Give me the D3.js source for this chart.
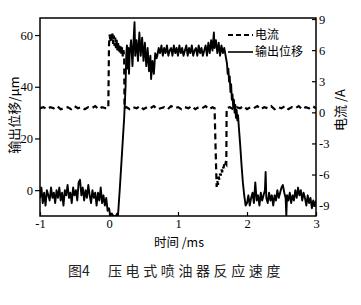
<!DOCTYPE html>
<html><head><meta charset="utf-8">
<script src="https://cdn.jsdelivr.net/npm/d3@7"></script>
<style>
html,body{margin:0;padding:0;background:#fff;}
svg{display:block;}
</style></head>
<body>
<script>
// ---- data ----
const xTicks = [-1, 0, 1, 2, 3];
const leftTicks = [0, 20, 40, 60];
const rightTicks = [-9, -6, -3, 0, 3, 6, 9];
const seriesNames = ["电流", "输出位移"];

// displacement (μm) : [time ms, value]
const displacement = [
[-1.00,-3],[-0.98,1],[-0.96,-5],[-0.94,-1],[-0.92,-6],[-0.90,0],[-0.88,-2],[-0.86,-4],[-0.84,1],[-0.82,-3],
[-0.80,-1],[-0.78,-5],[-0.76,0],[-0.74,-3],[-0.72,1],[-0.70,-4],[-0.68,-1],[-0.66,-6],[-0.64,0],[-0.62,-2],
[-0.60,2],[-0.58,-3],[-0.56,-1],[-0.54,-5],[-0.52,1],[-0.50,-2],[-0.48,0],[-0.46,-4],[-0.44,3],[-0.42,4],
[-0.40,-2],[-0.38,1],[-0.36,-4],[-0.34,0],[-0.32,-3],[-0.30,2],[-0.28,-2],[-0.26,-5],[-0.24,0],[-0.22,-3],
[-0.20,-1],[-0.18,-6],[-0.16,-1],[-0.14,-4],[-0.12,1],[-0.10,-5],[-0.08,-2],[-0.06,-6],[-0.04,-3],[-0.02,-8],
[0.00,-7],[0.02,-10],[0.04,-9],[0.06,-10],[0.08,-10],[0.10,-10],[0.12,-9],[0.13,-10],[0.16,2],[0.19,15],
[0.22,28],[0.24,40],[0.25,52],[0.26,56],[0.27,47],[0.28,55],[0.29,45],[0.30,53],[0.32,58],[0.34,48],
[0.36,60],[0.37,65],[0.38,52],[0.40,58],[0.42,50],[0.44,61],[0.46,52],[0.48,59],[0.50,50],[0.52,57],
[0.54,48],[0.56,55],[0.58,46],[0.60,52],[0.61,43],[0.63,50],[0.65,45],[0.67,53],[0.69,51],[0.70,52],
[0.72,55],[0.74,53],[0.76,56],[0.78,52],[0.80,55],[0.82,53],[0.84,56],[0.86,52],[0.88,54],[0.90,55],
[0.92,52],[0.94,56],[0.96,53],[0.98,55],[1.00,52],[1.02,56],[1.04,53],[1.06,55],[1.08,52],[1.10,54],
[1.12,56],[1.14,52],[1.16,55],[1.18,53],[1.20,56],[1.22,52],[1.24,54],[1.26,55],[1.28,52],[1.30,56],
[1.32,53],[1.34,55],[1.36,52],[1.38,54],[1.40,56],[1.42,52],[1.44,57],[1.46,53],[1.48,58],[1.50,54],
[1.52,61],[1.53,55],[1.55,58],[1.57,53],[1.59,57],[1.61,52],[1.63,56],[1.65,53],[1.67,55],[1.69,52],
[1.71,49],[1.72,45],[1.73,47],[1.74,42],[1.75,44],[1.76,38],[1.77,41],[1.78,35],[1.79,37],[1.80,32],
[1.81,35],[1.82,30],[1.83,33],[1.84,28],[1.85,31],[1.86,27],[1.87,29],[1.88,25],[1.90,18],[1.92,10],
[1.94,3],[1.96,-2],[1.98,-6],[2.00,-5],[2.02,-2],[2.04,-6],[2.06,-3],[2.08,-1],[2.10,-5],[2.12,3],
[2.14,-4],[2.16,-2],[2.18,-6],[2.20,-1],[2.22,-4],[2.24,-2],[2.26,0],[2.27,7],[2.28,-3],[2.30,-5],
[2.32,-1],[2.34,-4],[2.36,-2],[2.38,-6],[2.40,-2],[2.42,-4],[2.44,0],[2.46,-3],[2.48,-1],[2.50,1],
[2.52,2],[2.54,-1],[2.56,-3],[2.57,-10],[2.58,-2],[2.60,-4],[2.62,-1],[2.64,-5],[2.66,-2],[2.68,-4],
[2.70,0],[2.72,-3],[2.74,1],[2.76,-2],[2.78,0],[2.80,-4],[2.82,-1],[2.84,-3],[2.86,-6],[2.88,-2],
[2.90,-5],[2.92,-3],[2.94,-7],[2.96,-4],[2.98,-6],[3.00,-4]
];

// current (A) : [time ms, value]
const current = [
[-1.00,0.4],[-0.95,0.5],[-0.90,0.3],[-0.85,0.5],[-0.80,0.4],[-0.75,0.6],[-0.70,0.3],[-0.65,0.4],[-0.60,0.5],[-0.55,0.3],
[-0.50,0.6],[-0.45,0.4],[-0.40,0.5],[-0.35,0.3],[-0.30,0.5],[-0.25,0.4],[-0.20,0.6],[-0.15,0.3],[-0.10,0.5],[-0.05,0.4],
[-0.01,0.4],[0.00,6.5],[0.01,7.5],[0.02,6.8],[0.03,7.7],[0.04,6.9],[0.05,7.6],[0.06,6.6],[0.07,7.4],[0.08,6.4],
[0.09,7.2],[0.10,6.2],[0.11,7.0],[0.12,6.0],[0.13,6.8],[0.14,5.8],[0.15,6.6],[0.16,5.6],[0.17,6.5],[0.18,5.5],
[0.19,6.3],[0.20,5.4],[0.21,6.0],[0.22,5.3],[0.225,0.4],[0.25,0.5],[0.30,0.3],[0.35,0.5],[0.40,0.4],[0.45,0.6],
[0.50,0.3],[0.55,0.5],[0.60,0.4],[0.65,0.6],[0.70,0.3],[0.75,0.4],[0.80,0.5],[0.85,0.3],[0.90,0.6],[0.95,0.4],
[1.00,0.5],[1.05,0.3],[1.10,0.5],[1.15,0.4],[1.20,0.6],[1.25,0.3],[1.30,0.5],[1.35,0.4],[1.40,0.6],[1.45,0.3],
[1.50,0.5],[1.53,0.4],[1.545,-3.5],[1.56,-7.2],[1.57,-6.6],[1.58,-7.0],[1.59,-6.2],[1.60,-6.5],[1.61,-5.9],[1.62,-6.1],
[1.63,-5.5],[1.64,-5.8],[1.65,-5.2],[1.66,-5.4],[1.67,-5.0],[1.68,-5.2],[1.69,-4.9],[1.70,-5.0],[1.705,0.4],[1.75,0.5],
[1.80,0.3],[1.85,0.5],[1.90,0.4],[1.95,0.6],[2.00,0.3],[2.05,0.5],[2.10,0.4],[2.15,0.6],[2.20,0.3],[2.25,0.5],
[2.30,0.4],[2.35,0.6],[2.40,0.3],[2.45,0.5],[2.50,0.4],[2.55,0.6],[2.60,0.3],[2.65,0.5],[2.70,0.4],[2.75,0.6],
[2.80,0.3],[2.85,0.5],[2.90,0.4],[2.95,0.6],[3.00,0.4]
];

// ---- layout ----
const W = 361, H = 305;
const L = 40, R = 316, T = 18, B = 216;
const serif = "'Liberation Serif','DejaVu Serif',serif";
const cjk = "'Noto Sans CJK SC','Noto Sans CJK JP',sans-serif";

const svg = d3.select("body").append("svg").attr("width", W).attr("height", H);

const x = d3.scaleLinear().domain([-1, 3]).range([L, R]);
const yL = d3.scaleLinear().domain([-10, 66.6]).range([B, T]);
const yR = d3.scaleLinear().domain([-10, 9.1]).range([B, T]);

svg.append("defs").append("clipPath").attr("id", "clip")
  .append("rect").attr("x", L).attr("y", T).attr("width", R - L).attr("height", B - T);

const plot = svg.append("g").attr("clip-path", "url(#clip)");

plot.append("path").datum(current)
  .attr("fill", "none").attr("stroke", "#000").attr("stroke-width", 2.2)
  .attr("stroke-dasharray", "6,4")
  .attr("d", d3.line().x(d => x(d[0])).y(d => yR(d[1])));

plot.append("path").datum(displacement)
  .attr("fill", "none").attr("stroke", "#000").attr("stroke-width", 1.9)
  .attr("stroke-linejoin", "round")
  .attr("d", d3.line().x(d => x(d[0])).y(d => yL(d[1])));

// axes
const gx = svg.append("g").attr("transform", `translate(0,${B})`)
  .call(d3.axisBottom(x).tickValues(xTicks).tickSize(-4).tickPadding(3).tickFormat(d => String(d)));
const gl = svg.append("g").attr("transform", `translate(${L},0)`)
  .call(d3.axisLeft(yL).tickValues(leftTicks).tickSize(5).tickPadding(2).tickFormat(d => String(d)));
const gr = svg.append("g").attr("transform", `translate(${R},0)`)
  .call(d3.axisRight(yR).tickValues(rightTicks).tickSize(-4).tickPadding(3).tickFormat(d => String(d)));

[gx, gl, gr].forEach(g => {
  g.select(".domain").remove();
  g.selectAll("line").attr("stroke", "#000").attr("stroke-width", 1.2);
  g.selectAll("text").attr("font-family", serif).attr("font-size", 12.5).attr("fill", "#000");
});

// frame
svg.append("rect").attr("x", L).attr("y", T).attr("width", R - L).attr("height", B - T)
  .attr("fill", "none").attr("stroke", "#000").attr("stroke-width", 1.5);

// axis titles
svg.append("text").attr("x", 179).attr("y", 247).attr("text-anchor", "middle")
  .attr("font-family", cjk).attr("font-size", 12.5).attr("fill", "#000")
  .text("时间 /ms");

svg.append("text").attr("transform", "translate(19,115) rotate(-90)").attr("text-anchor", "middle")
  .attr("font-family", cjk).attr("font-size", 13).attr("fill", "#000")
  .text("输出位移/μm");

svg.append("text").attr("transform", "translate(345,110) rotate(-90)").attr("text-anchor", "middle")
  .attr("font-family", cjk).attr("font-size", 13).attr("fill", "#000")
  .text("电流 /A");

// legend
const legend = svg.append("g");
const legY = [35, 52];
legend.append("line").attr("x1", 228).attr("x2", 253).attr("y1", legY[0]).attr("y2", legY[0])
  .attr("stroke", "#000").attr("stroke-width", 1.8).attr("stroke-dasharray", "5,3");
legend.append("line").attr("x1", 228).attr("x2", 253).attr("y1", legY[1]).attr("y2", legY[1])
  .attr("stroke", "#000").attr("stroke-width", 1.6);
seriesNames.forEach((n, i) => {
  legend.append("text").attr("x", 255).attr("y", legY[i] + 4.2)
    .attr("font-family", cjk).attr("font-size", 12).attr("fill", "#000").text(n);
});

// caption
const cap = svg.append("text").attr("y", 276).attr("font-family", cjk).attr("font-size", 14).attr("fill", "#222");
cap.append("tspan").attr("x", 68).text("图4");
cap.append("tspan").attr("x", 108).attr("letter-spacing", 3.6).text("压电式喷油器反应速度");
</script>
</body></html>
